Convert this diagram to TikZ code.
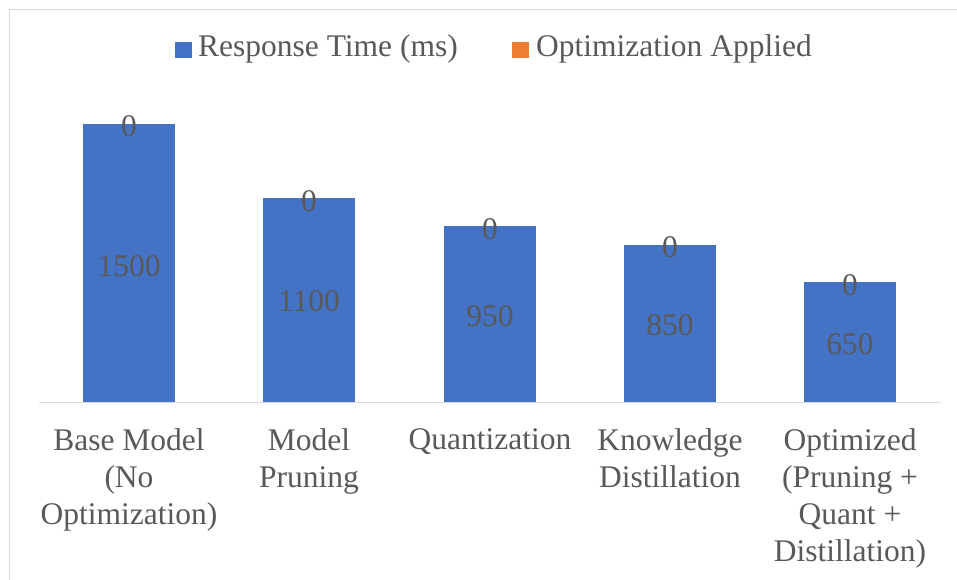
\documentclass[tikz,border=0pt]{standalone}
\usepackage{fontspec}
\setmainfont{Liberation Serif}
\definecolor{barblue}{HTML}{4472C4}
\definecolor{barorange}{HTML}{ED7D31}
\definecolor{txtgray}{HTML}{595959}
\definecolor{linegray}{HTML}{D9D9D9}
\begin{document}
\begin{tikzpicture}[x=1pt,y=-1pt,
  txt/.style={text=txtgray,font=\fontsize{31.5}{37}\selectfont,inner sep=0pt},
  bar/.style={fill=barblue,draw=none},
  cat/.style={txt,align=center,anchor=north},
  val/.style={txt,anchor=center}]
\useasboundingbox (0,0) rectangle (957,579);
\fill[white] (0,0) rectangle (957,579);
% frame (top and left visible)
\draw[linegray,line width=1.5pt] (9.5,590) -- (9.5,9.5) -- (970,9.5);
% legend
\fill[barblue] (175,42) rectangle (191.5,58);
\node[txt,anchor=west] (leg1) at (198,49) {Response Time (ms)};
\fill[barorange] (512,42) rectangle (528.5,58);
\node[txt,anchor=west] (leg2) at (536,49) {Optimization Applied};
% bars
\fill[bar] (83,124) rectangle (175,402);
\fill[bar] (263,198) rectangle (355,402);
\fill[bar] (444,226) rectangle (536,402);
\fill[bar] (624,244.5) rectangle (716,402);
\fill[bar] (804,282) rectangle (896,402);
% axis
\draw[linegray,line width=1.5pt] (39,402.5) -- (940,402.5);
% value labels
\node[val] (v1) at (129,266) {1500};
\node[val] (v2) at (309,301) {1100};
\node[val] (v3) at (490,316) {950};
\node[val] (v4) at (670,325) {850};
\node[val] (v5) at (850,344) {650};
% zero labels
\node[val] (z1) at (129,126) {0};
\node[val] (z2) at (309,201) {0};
\node[val] (z3) at (490,229) {0};
\node[val] (z4) at (670,247) {0};
\node[val] (z5) at (850,285) {0};
% category labels
\node[cat] (c1) at (129,428) {Base Model\\(No\\Optimization)};
\node[cat] (c2) at (309,428) {Model\\Pruning};
\node[cat] (c3) at (490,428) {Quantization};
\node[cat] (c4) at (670,428) {Knowledge\\Distillation};
\node[cat] (c5) at (850,428) {Optimized\\(Pruning +\\Quant +\\Distillation)};
\end{tikzpicture}
\end{document}
